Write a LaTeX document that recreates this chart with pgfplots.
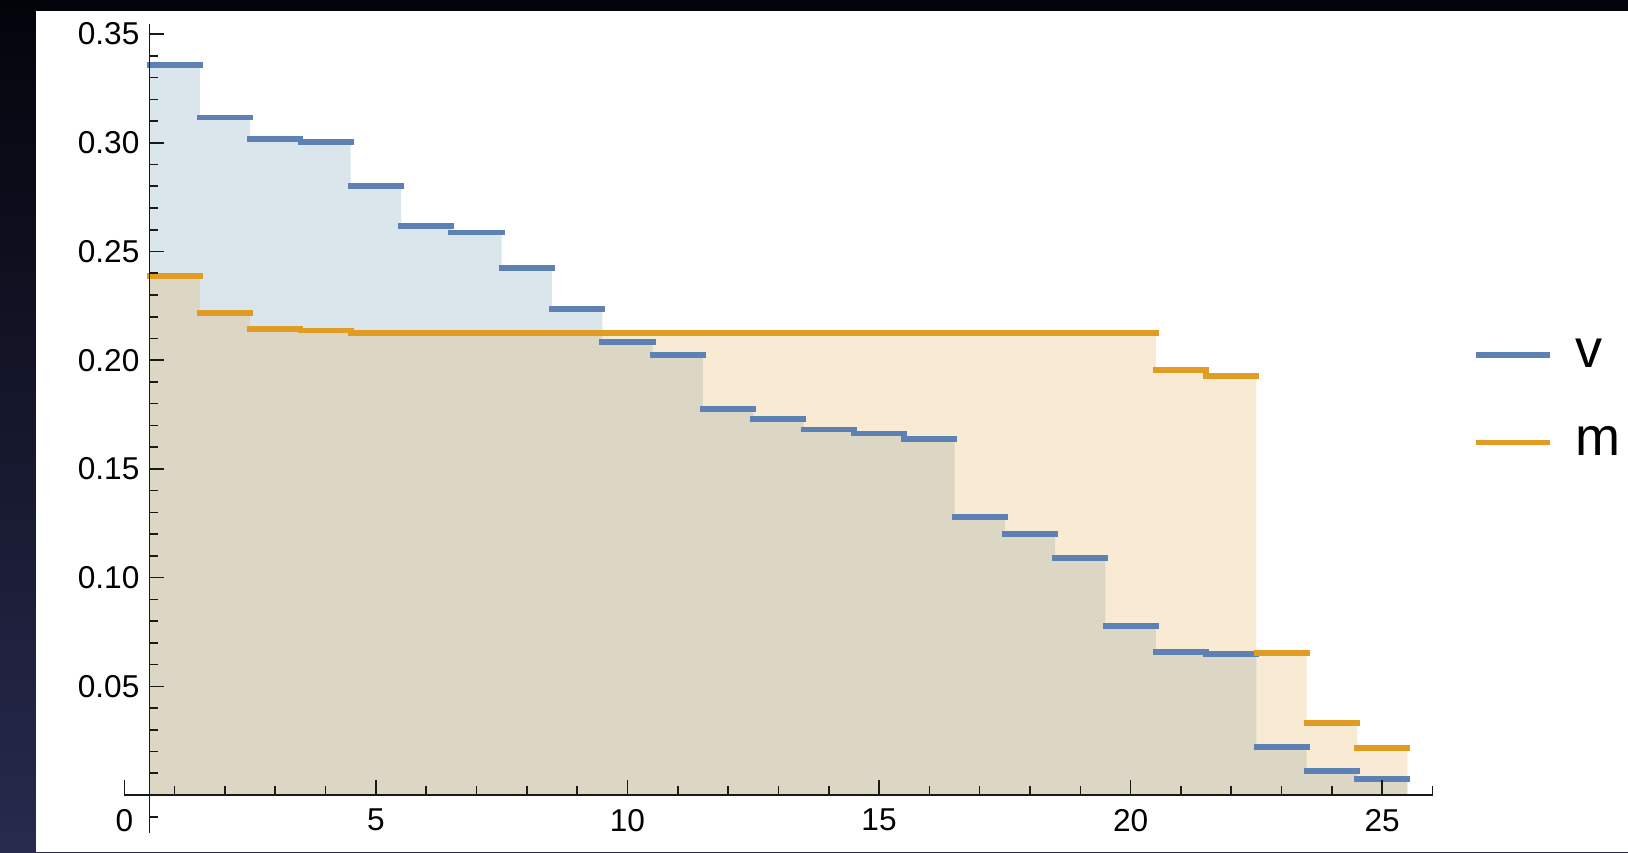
\documentclass[border=0pt]{standalone}
\usepackage{fontspec}
\setmainfont{Liberation Sans}
\usepackage{pgfplots}
\usepackage{pgfplotstable}
\pgfplotsset{compat=1.18}
\definecolor{mblue}{RGB}{94,129,181}
\definecolor{mbluefill}{RGB}{75,125,160}
\definecolor{morange}{RGB}{225,156,36}
\definecolor{bgtop}{RGB}{3,4,10}
\definecolor{bgbot}{RGB}{40,42,78}
\pgfplotstableread{
x v m
1 0.3359 0.2387
2 0.3116 0.2216
3 0.3016 0.2145
4 0.3005 0.2137
5 0.2800 0.2124
6 0.2616 0.2124
7 0.2587 0.2124
8 0.2423 0.2124
9 0.2237 0.2124
10 0.2085 0.2124
11 0.2023 0.2124
12 0.1776 0.2124
13 0.1731 0.2124
14 0.1681 0.2124
15 0.1663 0.2124
16 0.1638 0.2124
17 0.1280 0.2124
18 0.1201 0.2124
19 0.1090 0.2124
20 0.0777 0.2124
21 0.0659 0.1955
22 0.0649 0.1926
23 0.0221 0.0652
24 0.0112 0.0330
25 0.0074 0.0218
26 0.0074 0.0218
}\data
\begin{document}
\begin{tikzpicture}
\shade[top color=bgtop, bottom color=bgbot] (0,0) rectangle (814pt,426pt);
\fill[white] (18pt,0) rectangle (814pt,420.5pt);
% data axis with x axis
\begin{axis}[
  at={(62.15pt,28.5pt)}, anchor=south west,
  scale only axis, width=654.1pt, height=385.5pt,
  xmin=0, xmax=26, ymin=0, ymax=0.35465,
  axis x line=bottom, axis y line=none,
  axis line style={-, line width=0.8pt, black!90},
  xtick={0,5,10,15,20,25}, minor xtick={0,...,26}, ytick=\empty,
  tick align=inside,
  major tick length=7.5pt, minor tick length=4.5pt,
  every tick/.style={line width=0.8pt, black!90},
  xticklabel style={font=\fontsize{15.8}{18}\selectfont, yshift=-3.5pt},
  /pgf/number format/assume math mode=true,
  axis on top,
  legend style={draw=none, fill=none, at={(1.031,0.514)}, anchor=west,
    inner sep=0pt, row sep=24pt, font=\fontsize{27}{30}\selectfont},
  legend cell align=left,
  legend image code/.code={\draw[#1, line width=2.9pt, line cap=butt] (0pt,0pt) -- (37pt,0pt); \path (46pt,0pt);},
]
\addplot[draw=none, fill=mbluefill, fill opacity=0.2, const plot mark left, forget plot]
  table[x expr=\thisrow{x}-0.5, y=v] {\data} \closedcycle;
\addplot[draw=none, fill=morange, fill opacity=0.2, const plot mark left, forget plot]
  table[x expr=\thisrow{x}-0.5, y=m] {\data} \closedcycle;
\addplot[mblue, line width=2.9pt, line cap=rect, jump mark left]
  table[x expr=\thisrow{x}-0.5, y=v] {\data};
\addplot[morange, line width=2.9pt, line cap=rect, jump mark left]
  table[x expr=\thisrow{x}-0.5, y=m] {\data};
\legend{v, m}
\end{axis}
% y axis
\begin{axis}[
  at={(74.73pt,9.5pt)}, anchor=south west,
  scale only axis, width=641.5pt, height=404.5pt,
  xmin=0.5, xmax=26, ymin=-0.01748, ymax=0.35465,
  axis y line=left, axis x line=none,
  axis line style={-, line width=0.8pt, black!90},
  xtick=\empty,
  ytick={0.05,0.1,0.15,0.2,0.25,0.3,0.35},
  minor ytick={-0.01,0,0.01,0.02,0.03,0.04,0.06,0.07,0.08,0.09,0.11,0.12,0.13,0.14,0.16,0.17,0.18,0.19,0.21,0.22,0.23,0.24,0.26,0.27,0.28,0.29,0.31,0.32,0.33,0.34},
  tick align=inside,
  major tick length=7.5pt, minor tick length=4.5pt,
  every tick/.style={line width=0.8pt, black!90},
  scaled y ticks=false,
  yticklabel style={font=\fontsize{15.8}{18}\selectfont, xshift=-1.5pt,
    /pgf/number format/.cd, fixed, fixed zerofill, precision=2},
  /pgf/number format/assume math mode=true,
]
\end{axis}
\pgfresetboundingbox
\path[use as bounding box] (0,0) rectangle (814pt,426pt);
\end{tikzpicture}
\end{document}
